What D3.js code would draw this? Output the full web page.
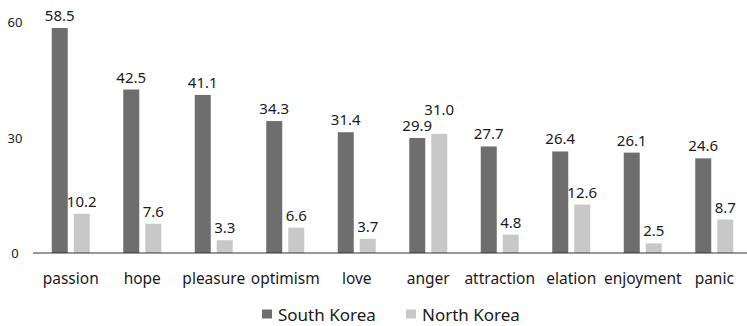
<!DOCTYPE html>
<html>
<head>
<meta charset="utf-8">
<script src="https://cdn.jsdelivr.net/npm/d3@7"></script>
<style>
  body { margin: 0; background: #fff; }
  text { font-family: "Noto Sans", "Open Sans", sans-serif; fill: #1a1a1a; }
</style>
</head>
<body>
<div id="chart"></div>
<script>
const categories = ['passion', 'hope', 'pleasure', 'optimism', 'love', 'anger', 'attraction', 'elation', 'enjoyment', 'panic'];
const southKorea = [58.5, 42.5, 41.1, 34.3, 31.4, 29.9, 27.7, 26.4, 26.1, 24.6];
const northKorea = [10.2, 7.6, 3.3, 6.6, 3.7, 31.0, 4.8, 12.6, 2.5, 8.7];
const yTicks = [0, 30, 60];
const seriesNames = ['South Korea', 'North Korea'];
const seriesColors = ['#6e6e6e', '#c8c8c8'];

const width = 747, height = 326;

const svg = d3.select('#chart').append('svg')
  .attr('width', width)
  .attr('height', height);

const x = d3.scaleBand().domain(categories).range([35, 750]);
const y = d3.scaleLinear().domain([0, 60]).range([253, 22.2]);

const barW = 16, offset = 11;
const labelGap = 7, labelH = 16;

const series = [southKorea, northKorea];
const barCenter = (i, si) => x(categories[i]) + x.bandwidth() / 2 + (si === 0 ? -offset : offset);

// label baseline, light labels pushed above dark ones when they would collide
function labelY(i, si) {
  const base = y(series[si][i]) - labelGap;
  if (si === 0) return base;
  const darkBase = y(southKorea[i]) - labelGap;
  if (Math.abs(base - darkBase) < labelH) return Math.min(base, darkBase - labelH);
  return base;
}

series.forEach((vals, si) => {
  const g = svg.append('g');
  g.selectAll('rect')
    .data(vals)
    .enter().append('rect')
    .attr('x', (d, i) => barCenter(i, si) - barW / 2)
    .attr('y', d => y(d))
    .attr('width', barW)
    .attr('height', d => y(0) - y(d))
    .attr('fill', seriesColors[si]);

  g.selectAll('text')
    .data(vals)
    .enter().append('text')
    .attr('x', (d, i) => barCenter(i, si))
    .attr('y', (d, i) => labelY(i, si))
    .attr('text-anchor', 'middle')
    .style('font-size', '15px')
    .text(d => d.toFixed(1));
});

// axis line
svg.append('line')
  .attr('x1', 33).attr('x2', 747)
  .attr('y1', y(0)).attr('y2', y(0))
  .attr('stroke', '#333')
  .attr('stroke-width', 1);

// y tick labels
svg.selectAll('.ytick')
  .data(yTicks)
  .enter().append('text')
  .attr('class', 'ytick')
  .attr('x', 15)
  .attr('y', d => y(d) + 5)
  .attr('text-anchor', 'middle')
  .style('font-size', '13px')
  .text(d => d);

// category labels
svg.selectAll('.cat')
  .data(categories)
  .enter().append('text')
  .attr('class', 'cat')
  .attr('x', d => x(d) + x.bandwidth() / 2)
  .attr('y', 284)
  .attr('text-anchor', 'middle')
  .style('font-size', '15.5px')
  .text(d => d);

// legend
const legendX = [262, 406];
const legend = svg.selectAll('.legend')
  .data(seriesNames)
  .enter().append('g')
  .attr('class', 'legend')
  .attr('transform', (d, i) => `translate(${legendX[i]},314)`);

legend.append('rect')
  .attr('x', 0).attr('y', -4.5)
  .attr('width', 10).attr('height', 9)
  .attr('fill', (d, i) => seriesColors[i]);

legend.append('text')
  .attr('x', 16)
  .attr('y', 6.5)
  .style('font-size', '17px')
  .text(d => d);
</script>
</body>
</html>
